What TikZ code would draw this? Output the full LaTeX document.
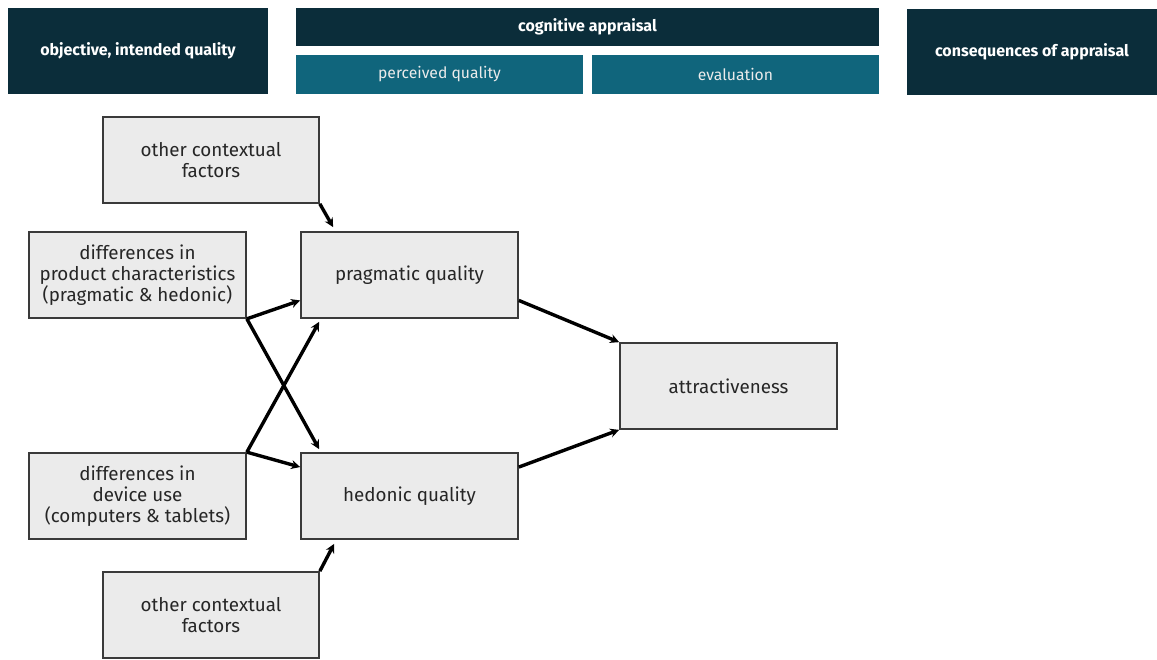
\documentclass[tikz,border=0pt]{standalone}
\usepackage{fontspec}
\setmainfont{Fira Sans}
\usetikzlibrary{arrows.meta,calc}
\definecolor{darkhead}{HTML}{0B2D3A}
\definecolor{tealhead}{HTML}{10657C}
\definecolor{boxfill}{HTML}{EBEBEB}
\definecolor{boxline}{HTML}{3A3A3A}
\tikzset{
  head/.style={fill=darkhead, draw=none, text=white, font=\fontsize{16}{18}\selectfont\bfseries, inner sep=0pt},
  subhead/.style={fill=tealhead, draw=none, text=white!92!black, font=\fontsize{15.7}{18}\selectfont, inner sep=0pt},
  gbox/.style={fill=boxfill, draw=boxline, line width=1.7pt, align=center, inner sep=0pt, font=\fontsize{18.8}{21}\selectfont, text=black!85},
  arr/.style={line width=3.4pt, -{Stealth[length=9pt,width=9pt]}, black},
}
\begin{document}
\begin{tikzpicture}[x=1pt,y=-1pt]
\useasboundingbox (0,0) rectangle (1157,659);
% header boxes
\node[head, minimum width=260, minimum height=86] (obj) at (138,51) {objective, intended quality};
\node[head, minimum width=583, minimum height=38] (cog) at (587.5,27) {cognitive appraisal};
\node[subhead, minimum width=287, minimum height=39] (perc) at (439.5,74.5) {perceived quality};
\node[subhead, minimum width=287, minimum height=39] (eval) at (735.5,74.5) {evaluation};
\node[head, minimum width=250, minimum height=86] (cons) at (1032,52) {consequences of appraisal};
% gray boxes
\node[gbox, minimum width=216, minimum height=86] (oth1) at (211,160) {other contextual\\factors};
\node[gbox, minimum width=217, minimum height=86] (prod) at (137.5,275) {differences in\\product characteristics\\(pragmatic \& hedonic)};
\node[gbox, minimum width=217, minimum height=86] (prag) at (409.5,275) {pragmatic quality};
\node[gbox, minimum width=217, minimum height=86] (attr) at (728.5,386) {attractiveness};
\node[gbox, minimum width=217, minimum height=86] (dev) at (137.5,496) {differences in\\device use\\(computers \& tablets)};
\node[gbox, minimum width=217, minimum height=86] (hed) at (409.5,496) {hedonic quality};
\node[gbox, minimum width=216, minimum height=86] (oth2) at (211,615) {other contextual\\factors};
% arrows
\draw[arr] (oth1.south east) -- ($(prag.north west)+(33,-4)$);
\draw[arr] (prod.south east) -- ($(prag.south west)!0.21!(prag.north west)$);
\draw[arr] (prod.south east) -- ($(hed.north west)+(19,-3)$);
\draw[arr] (dev.north east) -- ($(prag.south west)+(19,3)$);
\draw[arr] (dev.north east) -- ($(hed.north west)!0.17!(hed.south west)$);
\draw[arr] ($(prag.south east)!0.21!(prag.north east)$) -- (attr.north west);
\draw[arr] ($(hed.north east)!0.17!(hed.south east)$) -- (attr.south west);
\draw[arr] (oth2.north east) -- ($(hed.south west)+(34,4)$);
\end{tikzpicture}
\end{document}
